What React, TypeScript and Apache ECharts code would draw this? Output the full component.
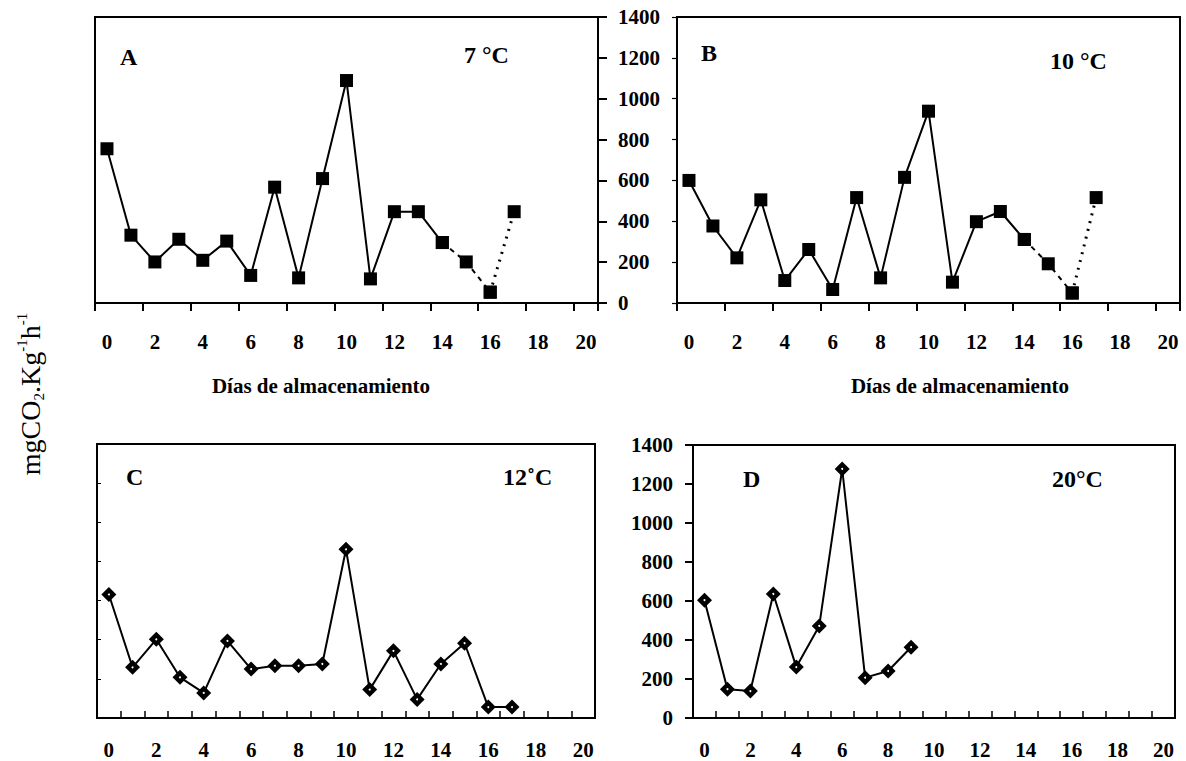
import React, { useEffect, useRef } from "react";
import * as echarts from "echarts";

// ---- data ----
const days = ["0", "1", "2", "3", "4", "5", "6", "7", "8", "9", "10", "11", "12", "13", "14", "15", "16", "17", "18", "19", "20"];
const yMin = 0;
const yMax = 1400;
const yStep = 200;

// Panel A (7 °C) – days 0..17
const respA = [755, 332, 201, 312, 209, 303, 135, 567, 123, 609, 1089, 118, 447, 447, 296, 201, 53, 447];
// Panel B (10 °C) – days 0..17
const respB = [600, 377, 221, 505, 110, 262, 66, 516, 123, 615, 939, 102, 398, 448, 311, 192, 49, 516];
// Panel C (12 °C) – days 0..17
const respC = [631, 259, 402, 208, 128, 394, 250, 267, 267, 276, 862, 145, 343, 95, 276, 382, 56, 56];
// Panel D (20 °C) – days 0..9
const respD = [604, 148, 138, 636, 261, 472, 1277, 207, 241, 363];

// last index of the solid segment, then dashed up to dotStart, dotted afterwards
const solidEnd = 14;
const dotStart = 16;

const panelLetters = ["A", "B", "C", "D"];
const panelTemps = ["7 °C", "10 °C", "12˚C", "20°C"];
const xTitle = "Días de almacenamiento";

const FONT = "'Liberation Serif', 'Times New Roman', serif";

function slice(values: number[], from: number, to: number) {
  return days.map((_, i) => (i >= from && i <= to && i < values.length ? values[i] : "-"));
}

export default function App() {
  const ref = useRef<HTMLDivElement>(null);

  useEffect(() => {
    if (!ref.current) return;
    const chart = echarts.init(ref.current, undefined, { renderer: "svg" });

    const black = "#000";
    const gridBase = { show: true, borderColor: black, borderWidth: 2, backgroundColor: "transparent" };
    const grids = [
      { ...gridBase, left: 95, top: 17, width: 503, height: 286 },
      { ...gridBase, left: 677, top: 17, width: 503, height: 286 },
      { ...gridBase, left: 97, top: 444, width: 498, height: 274 },
      { ...gridBase, left: 693, top: 445, width: 482, height: 273 },
    ];

    const labelStyle = { color: black, fontSize: 21, fontWeight: "bold" as const, fontFamily: FONT };
    const yFmt = (v: number) => String(v);

    const xTop = (gi: number) => ({
      gridIndex: gi,
      type: "category" as const,
      data: days,
      boundaryGap: true,
      axisLine: { lineStyle: { color: black, width: 2 } },
      axisTick: { show: true, interval: 1, length: 8, lineStyle: { color: black, width: 2 } },
      axisLabel: { ...labelStyle, interval: 1, margin: 28 },
      splitLine: { show: false },
    });
    const xBottom = (gi: number) => ({
      gridIndex: gi,
      type: "category" as const,
      data: days,
      boundaryGap: true,
      axisLine: { lineStyle: { color: black, width: 2 } },
      axisTick: { show: true, interval: 0, inside: true, length: 7, lineStyle: { color: black, width: 1.5 } },
      axisLabel: { ...labelStyle, interval: 1, margin: 21 },
      splitLine: { show: false },
    });

    const yBase = {
      type: "value" as const,
      min: yMin,
      max: yMax,
      interval: yStep,
      splitLine: { show: false },
    };

    const yAxes = [
      // 0: A (hidden, scale only)
      { ...yBase, gridIndex: 0, axisLine: { show: false }, axisTick: { show: false }, axisLabel: { show: false } },
      // 1: B main axis drawn on A's right edge, labels to its right
      {
        ...yBase,
        gridIndex: 1,
        position: "left" as const,
        offset: 79,
        axisLine: { show: true, lineStyle: { color: black, width: 2 } },
        axisTick: { show: true, inside: true, length: 9, lineStyle: { color: black, width: 2 } },
        axisLabel: { ...labelStyle, inside: true, margin: 20, formatter: yFmt },
      },
      // 2: B small ticks on its own box edge
      {
        ...yBase,
        gridIndex: 1,
        position: "left" as const,
        offset: 0,
        axisLine: { show: true, lineStyle: { color: black, width: 2 } },
        axisTick: { show: true, length: 5, lineStyle: { color: black, width: 1.2 } },
        axisLabel: { show: false },
      },
      // 3: C
      {
        ...yBase,
        gridIndex: 2,
        axisLine: { show: true, lineStyle: { color: black, width: 2 } },
        axisTick: { show: true, inside: true, length: 4, lineStyle: { color: black, width: 1 } },
        axisLabel: { show: false },
      },
      // 4: D
      {
        ...yBase,
        gridIndex: 3,
        axisLine: { show: true, lineStyle: { color: black, width: 2 } },
        axisTick: { show: true, length: 8, lineStyle: { color: black, width: 2 } },
        axisLabel: { ...labelStyle, margin: 20, formatter: yFmt },
      },
    ];

    const lineSeries = (xi: number, yi: number, data: any[], symbol: string, size: number, type: any, width: number) => ({
      type: "line" as const,
      xAxisIndex: xi,
      yAxisIndex: yi,
      data,
      symbol,
      symbolSize: size,
      showSymbol: symbol !== "none",
      connectNulls: false,
      itemStyle: { color: black, borderColor: black, borderWidth: 0 },
      lineStyle: { color: black, width, type },
      z: 3,
    });
    const marks = (xi: number, yi: number, data: number[], symbol: string, size: number, color: string, z: number) => ({
      type: "scatter" as const,
      xAxisIndex: xi,
      yAxisIndex: yi,
      data,
      symbol,
      symbolSize: size,
      itemStyle: { color, opacity: 1, borderWidth: 0 },
      z,
    });

    const series = [
      lineSeries(0, 0, slice(respA, 0, solidEnd), "rect", 13, "solid", 2),
      lineSeries(0, 0, slice(respA, solidEnd, dotStart), "rect", 13, [5, 5], 2),
      lineSeries(0, 0, slice(respA, dotStart, respA.length - 1), "rect", 13, [2, 6], 3),
      lineSeries(1, 1, slice(respB, 0, solidEnd), "rect", 13, "solid", 2),
      lineSeries(1, 1, slice(respB, solidEnd, dotStart), "rect", 13, [5, 5], 2),
      lineSeries(1, 1, slice(respB, dotStart, respB.length - 1), "rect", 13, [2, 6], 3),
      lineSeries(2, 3, slice(respC, 0, respC.length - 1), "none", 0, "solid", 2),
      marks(2, 3, respC, "diamond", 15, black, 4),
      marks(2, 3, respC, "circle", 2, "#fff", 5),
      lineSeries(3, 4, slice(respD, 0, respD.length - 1), "none", 0, "solid", 2),
      marks(3, 4, respD, "diamond", 15, black, 4),
      marks(3, 4, respD, "circle", 2, "#fff", 5),
    ];

    const txt = (text: string, x: number, y: number, size: number) => ({
      type: "text" as const,
      x,
      y,
      style: { text, fill: black, fontSize: size, fontWeight: "bold", fontFamily: FONT, align: "left", verticalAlign: "middle" },
    });

    const graphic = [
      txt(panelLetters[0], 120, 57, 24),
      txt(panelTemps[0], 464, 55, 24),
      txt(panelLetters[1], 701, 53, 24),
      txt(panelTemps[1], 1050, 61, 24),
      txt(panelLetters[2], 126, 477, 24),
      txt(panelTemps[2], 503, 477, 24),
      txt(panelLetters[3], 743, 479, 24),
      txt(panelTemps[3], 1052, 479, 24),
      {
        type: "text",
        x: 321,
        y: 386,
        style: { text: xTitle, fill: black, fontSize: 21, fontWeight: "bold", fontFamily: FONT, align: "center", verticalAlign: "middle" },
      },
      {
        type: "text",
        x: 960,
        y: 386,
        style: { text: xTitle, fill: black, fontSize: 21, fontWeight: "bold", fontFamily: FONT, align: "center", verticalAlign: "middle" },
      },
      {
        type: "text",
        x: 30,
        y: 394,
        rotation: Math.PI / 2,
        style: {
          text: "{b|mgCO}{sub|2}{b|.Kg}{sup|-1}{b|h}{sup|-1}",
          align: "center",
          verticalAlign: "middle",
          fill: black,
          rich: {
            b: { fontSize: 28, fontFamily: FONT, lineHeight: 32, fill: black, color: black },
            sub: { fontSize: 15, fontFamily: FONT, lineHeight: 16, verticalAlign: "bottom", fill: black, color: black },
            sup: { fontSize: 15, fontFamily: FONT, lineHeight: 16, verticalAlign: "top", fill: black, color: black },
          },
        },
      },
    ];

    chart.setOption({
      animation: false,
      backgroundColor: "#fff",
      textStyle: { fontFamily: FONT },
      grid: grids,
      xAxis: [xTop(0), xTop(1), xBottom(2), xBottom(3)],
      yAxis: yAxes,
      series,
      graphic,
    });

    return () => chart.dispose();
  }, []);

  return (
    <div
      ref={ref}
      style={{ position: "fixed", left: 0, top: 0, width: 1186, height: 761, background: "#fff" }}
    />
  );
}
